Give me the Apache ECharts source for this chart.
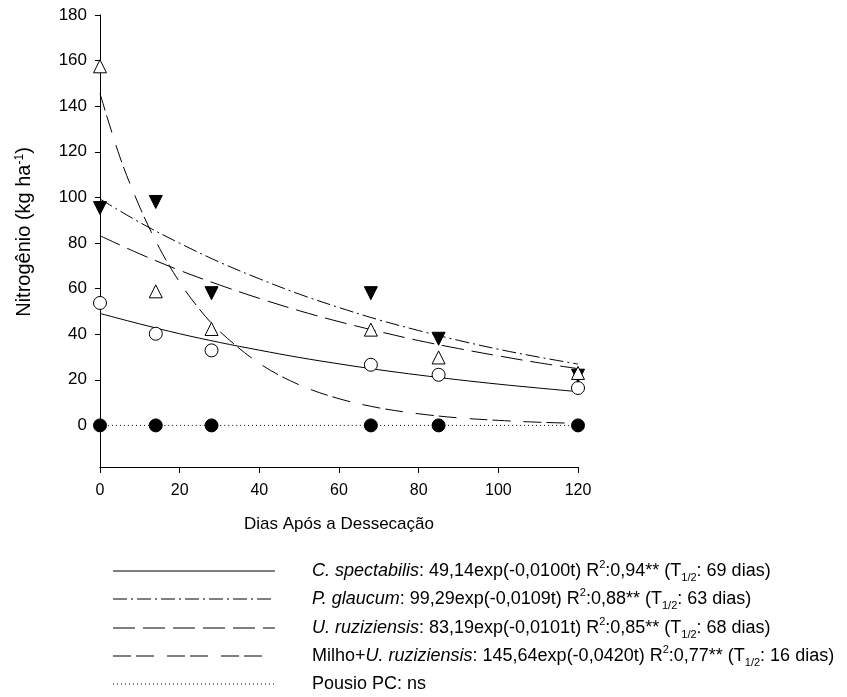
<!DOCTYPE html>
<html><head><meta charset="utf-8">
<script src="https://cdn.jsdelivr.net/npm/echarts@6/dist/echarts.min.js"></script>
<style>html,body{margin:0;padding:0;background:#fff}#c{width:847px;height:697px}</style>
</head><body><div id="c"></div>
<script>
// observed data (days after desiccation)
const days = [0, 14, 28, 68, 85, 120];
const cSpectabilisObs = [53.7, 40.2, 32.9, 26.6, 22.2, 16.4];
const pGlaucumObs = [95.3, 98, 58, 58, 38, 21.8];
const ruzObs = [157.5, 58.8, 42.3, 42, 29.8, 23];
const pousioObs = [0, 0, 0, 0, 0, 0];

// fitted curves
const fitDays = [0, 10, 20, 30, 40, 50, 60, 70, 80, 90, 100, 110, 120];
const cSpectabilisFit = [49.1, 44.5, 40.2, 36.4, 33.0, 29.8, 27.0, 24.4, 22.1, 20.0, 18.1, 16.4, 14.8];
const pGlaucumFit = [99.3, 89.0, 79.9, 71.6, 64.3, 57.6, 51.7, 46.3, 41.6, 37.3, 33.4, 30.0, 26.9];
const uRuzFit = [83.2, 75.2, 68.0, 61.6, 55.7, 50.3, 45.5, 41.2, 37.2, 33.7, 30.5, 27.5, 24.9];
const milhoDays = [0, 5, 10, 15, 20, 25, 30, 40, 50, 60, 70, 80, 90, 100, 110, 120];
const milhoFit = [145.6, 117.7, 95.7, 77.5, 62.8, 50.9, 41.3, 27.2, 17.8, 11.7, 7.7, 5.1, 3.3, 2.2, 1.4, 0.9];

const yTicks = [0, 20, 40, 60, 80, 100, 120, 140, 160, 180];

const legendTexts = [
  '{i|C. spectabilis}: 49,14exp(-0,0100t) R{sup|2}:0,94** (T{sub|1/2}: 69 dias)',
  '{i|P. glaucum}: 99,29exp(-0,0109t) R{sup|2}:0,88** (T{sub|1/2}: 63 dias)',
  '{i|U. ruziziensis}: 83,19exp(-0,0101t) R{sup|2}:0,85** (T{sub|1/2}: 68 dias)',
  'Milho+{i|U. ruziziensis}: 145,64exp(-0,0420t) R{sup|2}:0,77** (T{sub|1/2}: 16 dias)',
  'Pousio PC: ns'
];

const FONT = 'Liberation Sans, Arial, sans-serif';
const LEG_FS = 18;
const dashes = {
  solid: null,
  dashDot: [14, 4, 2, 4],
  longDash: [22, 8],
  pairDash: [18, 5, 18, 13],
  dotted: [1, 3]
};
const lineKinds = ['solid', 'dashDot', 'longDash', 'pairDash', 'dotted'];

function pairs(xs, ys) { return xs.map((x, i) => [x, ys[i]]); }

function lineSeries(name, data, dash) {
  return {
    name, type: 'line', data, smooth: 0.35, symbol: 'none', z: 2,
    lineStyle: { color: '#000', width: 1, type: dash || 'solid' },
    animation: false, silent: true
  };
}
function markerSeries(data, symbol, fill, rotate, size) {
  return {
    type: 'scatter', data, symbol, symbolSize: size, symbolRotate: rotate || 0, z: 5,
    itemStyle: { color: fill, borderColor: '#000', borderWidth: 1, opacity: 1 },
    animation: false, silent: true
  };
}

const richStyles = {
  i: { fontStyle: 'italic', fontSize: LEG_FS, fontFamily: FONT, color: '#000', lineHeight: 24 },
  sup: { fontSize: 11, fontFamily: FONT, color: '#000', verticalAlign: 'top', lineHeight: 14 },
  sub: { fontSize: 11, fontFamily: FONT, color: '#000', verticalAlign: 'bottom', lineHeight: 12 }
};

const rowY = [571, 599, 628, 656, 684];
const graphics = [];
rowY.forEach((y, k) => {
  const d = dashes[lineKinds[k]];
  graphics.push({
    type: 'line', silent: true,
    shape: { x1: 113, y1: y, x2: 275, y2: y },
    style: { stroke: '#000', lineWidth: 1, lineDash: d || null }
  });
  graphics.push({
    type: 'text', silent: true, x: 312, y: y,
    style: {
      text: legendTexts[k], rich: richStyles, fontSize: LEG_FS, fontFamily: FONT,
      fill: '#000', verticalAlign: 'middle', lineHeight: 24
    }
  });
});

const chart = echarts.init(document.getElementById('c'), null, { renderer: 'canvas' });
chart.setOption({
  backgroundColor: '#fff',
  animation: false,
  grid: { left: 100, top: 15, width: 478, height: 456, containLabel: false, outerBoundsMode: 'none' },
  xAxis: {
    type: 'value', min: 0, max: 120, interval: 20, offset: -4,
    name: 'Dias Após a Dessecação', nameLocation: 'middle', nameGap: 49,
    nameTextStyle: { fontSize: 17, fontFamily: FONT, color: '#000' },
    axisLine: { show: true, onZero: false, lineStyle: { color: '#000', width: 1 } },
    axisTick: { show: true, inside: false, length: 6, lineStyle: { color: '#000' } },
    axisLabel: { fontSize: 16, fontFamily: FONT, color: '#000', margin: 16 },
    splitLine: { show: false }
  },
  yAxis: {
    type: 'value', min: -20, max: 180, interval: 20,
    name: 'Nitrogênio (kg ha{sup|-1})', nameLocation: 'middle', nameGap: 66,
    nameTextStyle: {
      fontSize: 20, fontFamily: FONT, color: '#000', padding: [0, 0, 0, 22],
      rich: { sup: { fontSize: 12, fontFamily: FONT, color: '#000', verticalAlign: 'top', lineHeight: 14 } }
    },
    axisLine: { show: true, onZero: false, lineStyle: { color: '#000', width: 1 } },
    axisTick: { show: true, inside: false, length: 5, customValues: yTicks, lineStyle: { color: '#000' } },
    axisLabel: { fontSize: 17, fontFamily: FONT, color: '#000', margin: 13, customValues: yTicks },
    splitLine: { show: false }
  },
  series: [
    lineSeries('C. spectabilis', pairs(fitDays, cSpectabilisFit), 'solid'),
    lineSeries('P. glaucum', pairs(fitDays, pGlaucumFit), dashes.dashDot),
    lineSeries('U. ruziziensis', pairs(fitDays, uRuzFit), dashes.longDash),
    lineSeries('Milho+U. ruziziensis', pairs(milhoDays, milhoFit), dashes.pairDash),
    lineSeries('Pousio PC', pairs(days, pousioObs), dashes.dotted),
    markerSeries(pairs(days, cSpectabilisObs), 'circle', '#fff', 0, 13),
    markerSeries(pairs(days, pGlaucumObs), 'triangle', '#000', 180, 13),
    markerSeries(pairs(days, ruzObs), 'triangle', '#fff', 0, 13),
    markerSeries(pairs(days, pousioObs), 'circle', '#000', 0, 13)
  ],
  graphic: graphics
});
</script></body></html>
